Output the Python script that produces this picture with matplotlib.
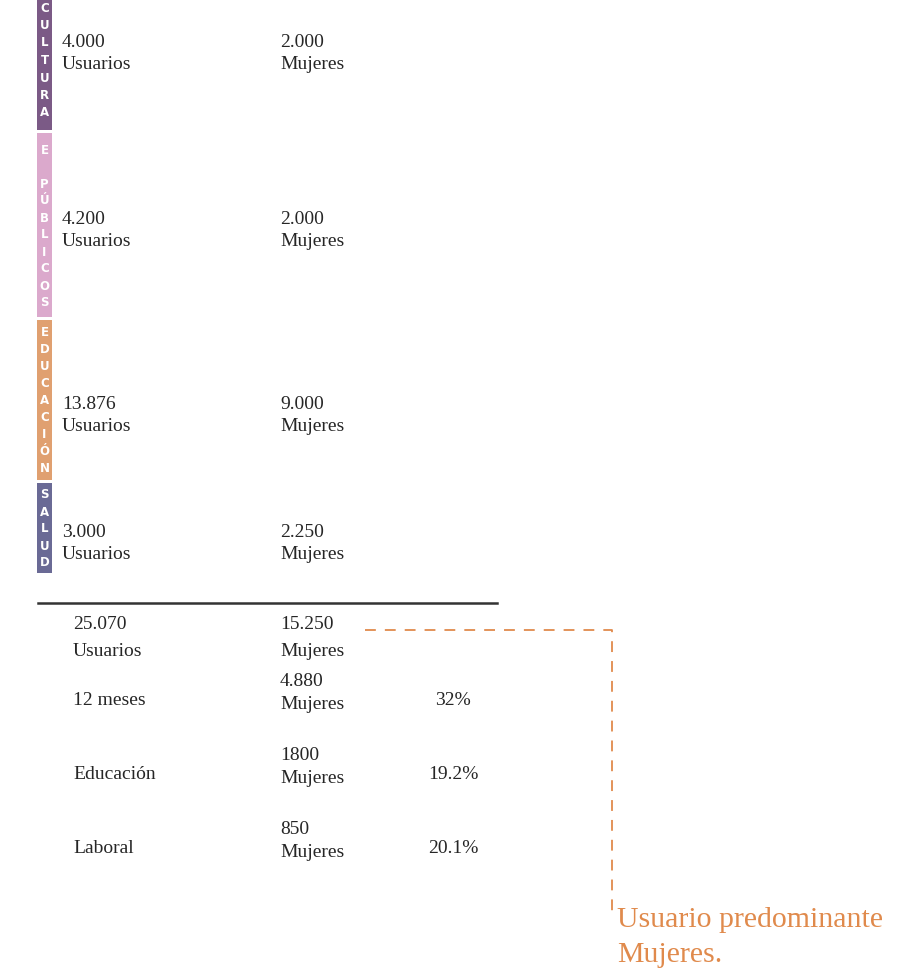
import matplotlib.pyplot as plt
from matplotlib.patches import Rectangle

# sector data (top to bottom)
sectors = ['CULTURA', 'E PÚBLICOS', 'EDUCACIÓN', 'SALUD']
sector_colors = ['#7b5a86', '#dba9cc', '#e0a070', '#6a6a95']
usuarios = ['4.000', '4.200', '13.876', '3.000']
mujeres = ['2.000', '2.000', '9.000', '2.250']

total_usuarios = '25.070'
total_mujeres = '15.250'

# breakdown rows under the total
row_labels = ['12 meses', 'Educación', 'Laboral']
row_mujeres = ['4.880', '1800', '850']
row_pct = ['32%', '19.2%', '20.1%']

note = ['Usuario predominante', 'Mujeres.']

# layout in pixel units
bar_spans = [(-10, 130), (133, 317), (320, 480), (483, 573)]
letter_start = [8, 150, 333, 495]
letter_step = [17.5, 17, 16.9, 17]
block_base = [47, 224, 409, 537]
row_base = [686, 760, 834]

serif = 'Liberation Serif'
fs = 14
txt = '#262626'
orange = '#e08a4c'

fig = plt.figure(figsize=(9.06, 9.74), dpi=100)
ax = fig.add_axes([0, 0, 1, 1])
ax.set_xlim(0, 906)
ax.set_ylim(974, 0)
ax.axis('off')

for i, name in enumerate(sectors):
    y0, y1 = bar_spans[i]
    ax.add_patch(Rectangle((37, y0), 15, y1 - y0, color=sector_colors[i], lw=0))
    for k, ch in enumerate(name):
        if ch == ' ':
            continue
        ax.text(44.5, letter_start[i] + k * letter_step[i], ch, color='white',
                fontsize=8.5, fontweight='heavy', ha='center', va='center',
                family='DejaVu Sans')
    b = block_base[i]
    ax.text(62, b, usuarios[i], family=serif, fontsize=fs, color=txt, va='baseline')
    ax.text(62, b + 22, 'Usuarios', family=serif, fontsize=fs, color=txt, va='baseline')
    ax.text(280, b, mujeres[i], family=serif, fontsize=fs, color=txt, va='baseline')
    ax.text(280, b + 22, 'Mujeres', family=serif, fontsize=fs, color=txt, va='baseline')

ax.plot([38, 497], [603, 603], color='#333333', lw=1.8)

ax.text(73, 629, total_usuarios, family=serif, fontsize=fs, color=txt, va='baseline')
ax.text(73, 656, 'Usuarios', family=serif, fontsize=fs, color=txt, va='baseline')
ax.text(280, 629, total_mujeres, family=serif, fontsize=fs, color=txt, va='baseline')
ax.text(280, 656, 'Mujeres', family=serif, fontsize=fs, color=txt, va='baseline')

for i, lab in enumerate(row_labels):
    b = row_base[i]
    ax.text(73, b + 19, lab, family=serif, fontsize=fs, color=txt, va='baseline')
    ax.text(280, b, row_mujeres[i], family=serif, fontsize=fs, color=txt, va='baseline')
    ax.text(280, b + 23, 'Mujeres', family=serif, fontsize=fs, color=txt, va='baseline')
    ax.text(453, b + 19, row_pct[i], family=serif, fontsize=fs, color=txt,
            va='baseline', ha='center')

# dashed connector to the note
ax.plot([365, 612, 612], [630, 630, 915], color=orange, lw=1.3,
        linestyle=(0, (6, 5)))
ax.text(617, 927, note[0], family=serif, fontsize=21.5, color=orange, va='baseline')
ax.text(617, 962, note[1], family=serif, fontsize=21.5, color=orange, va='baseline')

fig.savefig('out.png', dpi=100)
